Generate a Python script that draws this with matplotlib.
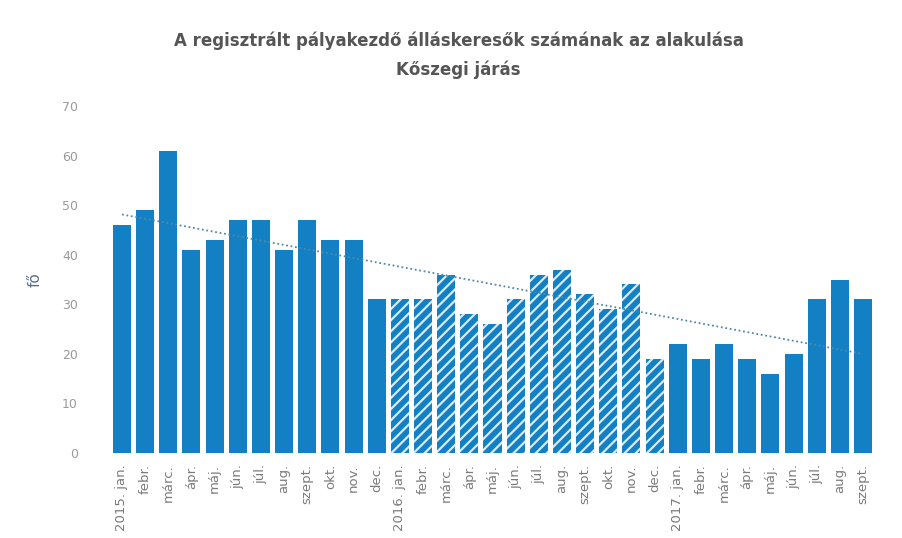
import numpy as np
import matplotlib
matplotlib.use("Agg")
import matplotlib.pyplot as plt

# month labels
labels = ["2015. jan.", "febr.", "márc.", "ápr.", "máj.", "jún.", "júl.", "aug.",
          "szept.", "okt.", "nov.", "dec.",
          "2016. jan.", "febr.", "márc.", "ápr.", "máj.", "jún.", "júl.", "aug.",
          "szept.", "okt.", "nov.", "dec.",
          "2017. jan.", "febr.", "márc.", "ápr.", "máj.", "jún.", "júl.", "aug.",
          "szept."]

# registered job seekers (fő)
values = [46, 49, 61, 41, 43, 47, 47, 41, 47, 43, 43, 31,
          31, 31, 36, 28, 26, 31, 36, 37, 32, 29, 34, 19,
          22, 19, 22, 19, 16, 20, 31, 35, 31]

# bars of 2016 look hatched in the scan
hatched = [False] * 12 + [True] * 12 + [False] * 9

y_ticks = [0, 10, 20, 30, 40, 50, 60, 70]

BLUE = "#1380c3"
plt.rcParams["hatch.linewidth"] = 1.6

fig = plt.figure(figsize=(9.03, 5.38), dpi=100)
ax = fig.add_axes([100 / 903, 85 / 538, 785 / 903, 347 / 538])

x = np.arange(len(values))
for xi, v, h in zip(x, values, hatched):
    if h:
        ax.bar(xi, v, width=0.78, color=BLUE, hatch="///", edgecolor="#d6eaf7",
               linewidth=0)
    else:
        ax.bar(xi, v, width=0.78, color=BLUE, linewidth=0)

# linear trend
k, b = np.polyfit(x, values, 1)
ax.plot(x, k * x + b, linestyle=(0, (1, 1.5)), color="#4f8aa8", linewidth=1.3)

ax.set_xlim(-0.95, 32.95)
ax.set_ylim(0, 70)
ax.set_yticks(y_ticks)
ax.set_yticklabels([str(t) for t in y_ticks], color="#9a9a9a", fontsize=9)
ax.set_xticks(x)
ax.set_xticklabels(labels, rotation=90, color="#7a7a7a", fontsize=9.5)
ax.tick_params(length=0, pad=8)
ax.tick_params(axis="y", pad=16)
for s in ax.spines.values():
    s.set_visible(False)

ax.set_ylabel("fő", color="#5a6e8a", fontsize=11, labelpad=14)

fig.text(0.508, 0.925, "A regisztrált pályakezdő álláskeresők számának az alakulása",
         ha="center", va="center", fontsize=12, fontweight="bold", color="#555555")
fig.text(0.508, 0.87, "Kőszegi járás", ha="center", va="center",
         fontsize=12, fontweight="bold", color="#555555")

fig.savefig("out.png", dpi=100)
